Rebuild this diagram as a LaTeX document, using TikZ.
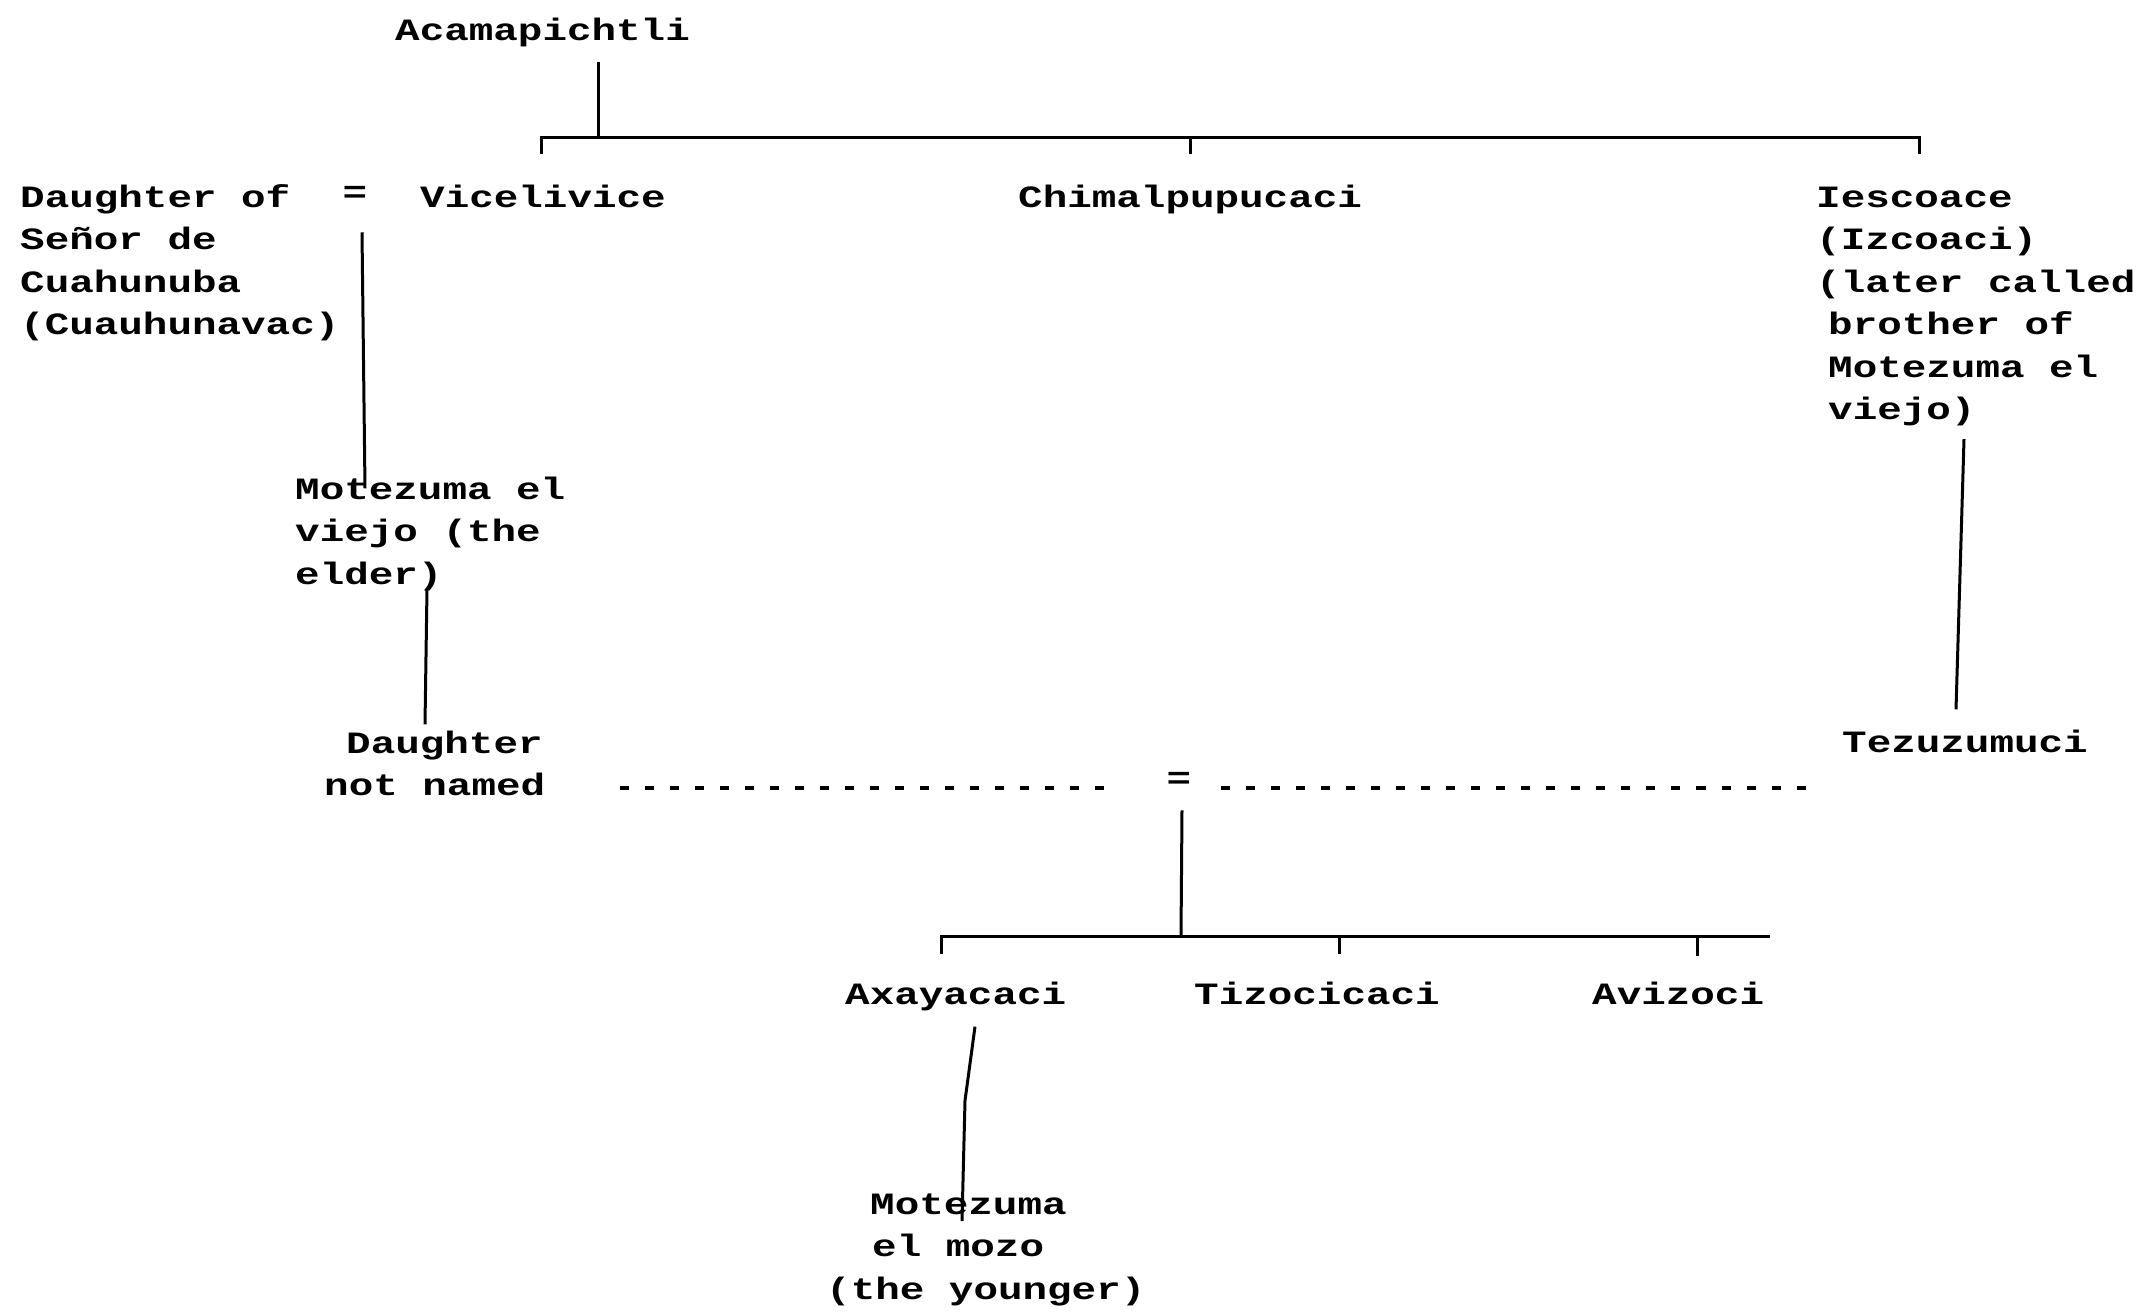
\documentclass[tikz,border=0pt]{standalone}
\usepackage{fontspec}
\newfontfamily\tw{Liberation Mono}[FakeStretch=1.32]
\usetikzlibrary{calc}
\begin{document}
\begin{tikzpicture}[x=1pt,y=-1pt,
  tw/.style={font=\tw\bfseries\fontsize{31}{42.5}\selectfont, inner sep=0pt, anchor=base west, align=left},
  ln/.style={line width=3pt},
  dl/.style={line width=3.5pt, dash pattern=on 9pt off 16pt}]
\fill[white] (0,0) rectangle (2152,1314);
\useasboundingbox (0,0) rectangle (2152,1314);
% nodes (multi-line nodes are placed by the baseline of their last line)
\node[tw] (acam) at (395,41) {Acamapichtli};
\node[tw] (dau) at (20,334.5) {Daughter of\\Señor de\\Cuahunuba\\(Cuauhunavac)};
\node[tw, anchor=center] (eq1) at (355,194) {=};
\node[tw] (vic) at (420,207) {Vicelivice};
\node[tw] (chim) at (1018,207) {Chimalpupucaci};
\node[tw] (isc) at (1816,419.5) {Iescoace\\(Izcoaci)\\(later called\\\hspace*{12pt}brother of\\\hspace*{12pt}Motezuma el\\\hspace*{12pt}viejo)};
\node[tw] (mv) at (295,584) {Motezuma el\\viejo (the\\elder)};
\node[tw] (dnn) at (324,795.5) {\hspace*{22pt}Daughter\\not named};
\node[tw] (tez) at (1842,752) {Tezuzumuci};
\node[tw, anchor=center] (eq2) at (1179,780) {=};
\node[tw] (axa) at (845,1004) {Axayacaci};
\node[tw] (tiz) at (1194,1004) {Tizocicaci};
\node[tw] (avi) at (1592,1004) {Avizoci};
\node[tw] (mm) at (826,1299) {\hspace*{44pt}Motezuma\\\hspace*{46pt}el mozo\\(the younger)};
% junction coordinates
\coordinate (tj) at (598,137);
\coordinate (tl) at (541,137);
\coordinate (tr) at (1919,137);
\coordinate (dl1) at (620,788);
\coordinate (dr1) at (1812,788);
\coordinate (bj) at (1181,936);
\coordinate (bl) at (941,936);
\coordinate (br) at (1770,936);
\coordinate (bt2) at (1339,936);
\coordinate (bt3) at (1697,936);
% top family
\draw[ln, shorten <=14pt] (acam.south -| tj) -- (tj);
\draw[ln] ($(tl)+(0,17)$) -- (tl) -- (tr) -- ++(0,17);
\draw[ln] (chim.north |- tl) -- ++(0,17);
% marriage line to Motezuma el viejo
\draw[ln] ($(eq1.south)+(7,30)$) -- ($(mv.north west)+(70,12)$);
% Motezuma el viejo to daughter
\draw[ln] ($(mv.south west)+(132,-2)$) -- ($(dnn.north west)+(101,-6)$);
% Iescoace to Tezuzumuci
\draw[ln] ($(isc.south west)+(148,13)$) -- ($(tez.north west)+(114,-20)$);
% marriage dashed line
\draw[dl, shorten >=52pt] (dl1) -- (eq2.west |- dl1);
\draw[dl, shorten <=30pt] (eq2.east |- dr1) -- (dr1);
% children
\draw[ln] ($(eq2.south)+(3,22)$) -- (bj);
\draw[ln] ($(bl)+(0,18)$) -- (bl) -- (br);
\draw[ln] (bt2) -- ++(0,18);
\draw[ln] (bt3) -- ++(0,20);
% Axayacaci to Motezuma el mozo
\draw[ln] ($(axa.south west)+(130,16)$) -- ($(axa.south west)+(120,90)$) -- ($(mm.north west)+(136,28)$);
\end{tikzpicture}
\end{document}
